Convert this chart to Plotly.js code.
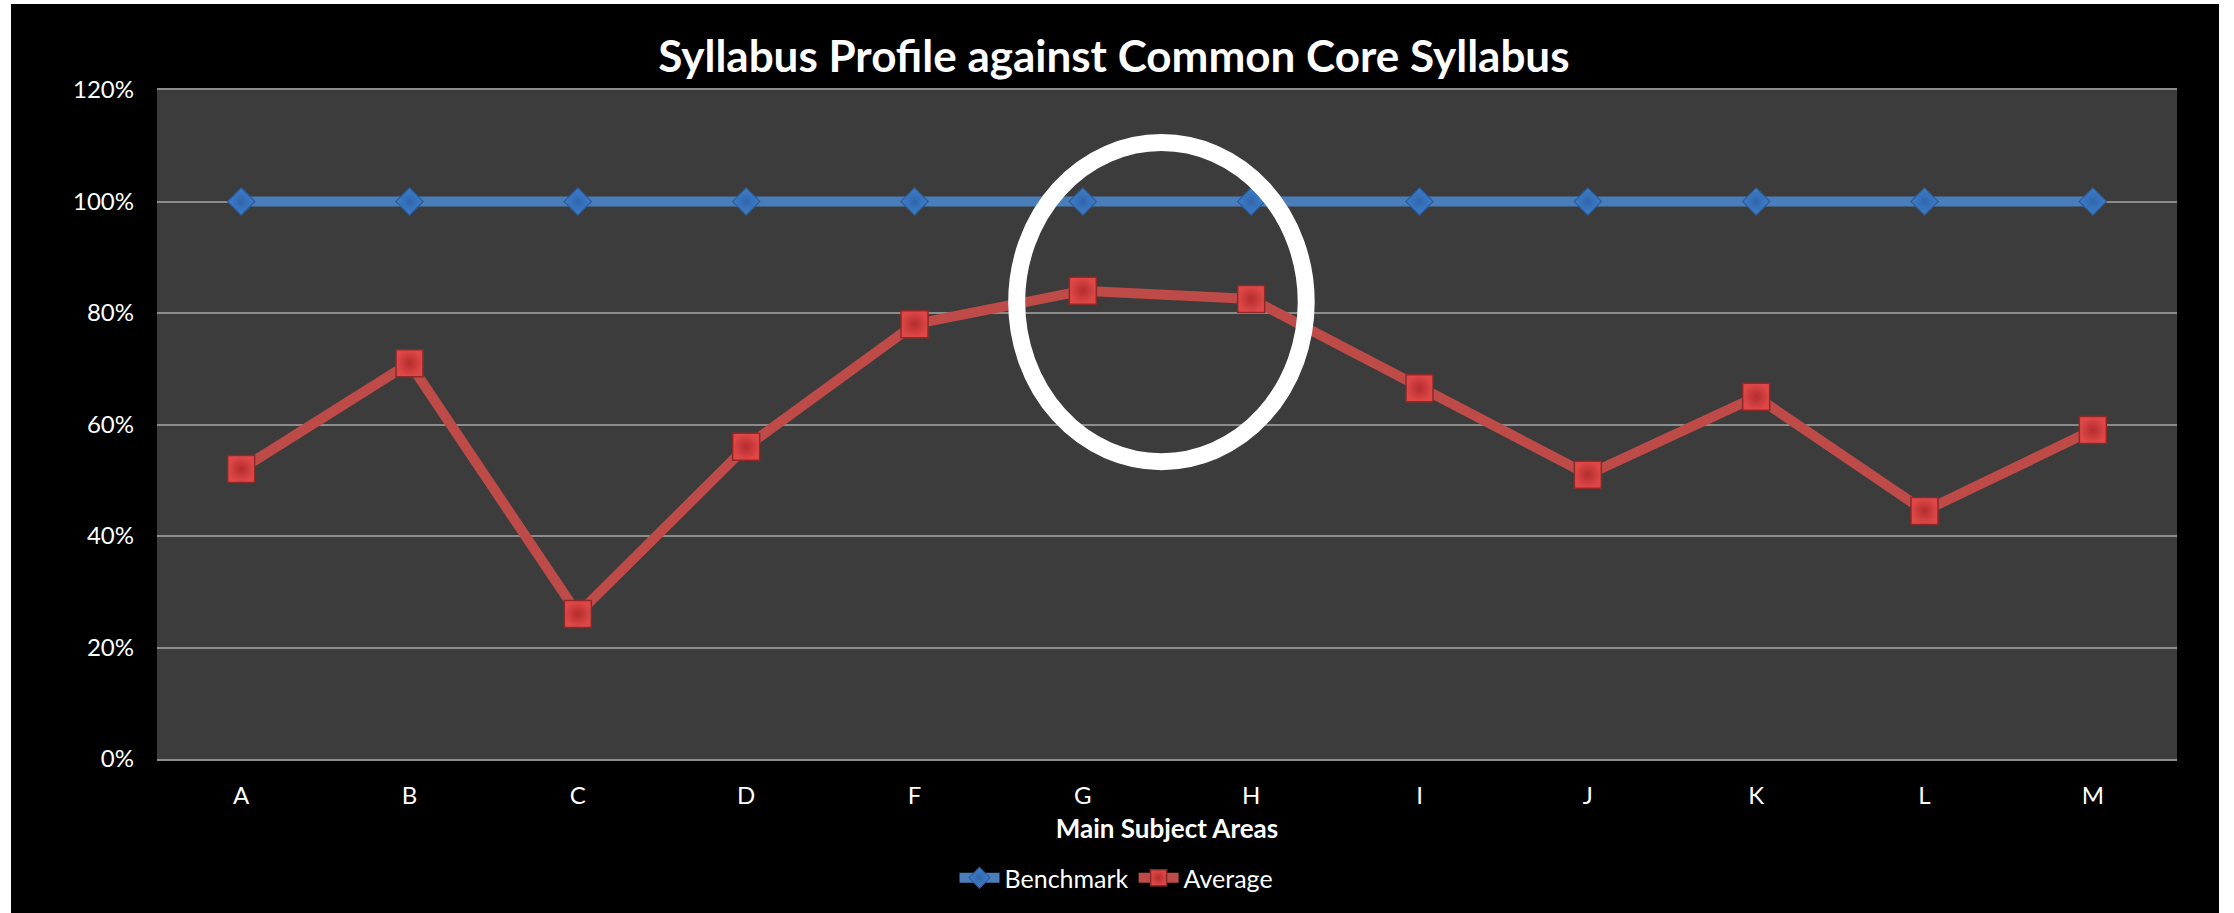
<!DOCTYPE html>
<html>
<head>
<meta charset="utf-8">
<script src="https://cdn.plot.ly/plotly-3.0.1.min.js"></script>
<style>
  html, body { margin: 0; padding: 0; background: #ffffff; width: 2234px; height: 913px; overflow: hidden; }
  #chart { position: absolute; left: 11px; top: 4px; width: 2208px; height: 909px; }
</style>
</head>
<body>
<div id="chart"></div>
<script>
// ---- data ----
const categories = ["A", "B", "C", "D", "F", "G", "H", "I", "J", "K", "L", "M"];
const benchmark = [1, 1, 1, 1, 1, 1, 1, 1, 1, 1, 1, 1];
const average = [0.52, 0.71, 0.26, 0.56, 0.78, 0.84, 0.825, 0.665, 0.51, 0.65, 0.445, 0.59];
const seriesNames = ["Benchmark", "Average"];
const chartTitle = "Syllabus Profile against Common Core Syllabus";
const xTitle = "Main Subject Areas";

const FONT = 'Lato, "Open Sans", sans-serif';

const traces = [
  {
    x: categories, y: benchmark, name: seriesNames[0], type: "scatter", mode: "lines+markers",
    line: { color: "#4a7ebb", width: 10 },
    marker: { symbol: "diamond", size: 21, color: "#3f7fcf", line: { color: "#2c5d98", width: 1.2 },
              gradient: { type: "radial", color: "#2f66aa" } }
  },
  {
    x: categories, y: average, name: seriesNames[1], type: "scatter", mode: "lines+markers",
    line: { color: "#be4b48", width: 10 },
    marker: { symbol: "square", size: 27, color: "#e04848", line: { color: "#8b2a29", width: 1.5 },
              gradient: { type: "radial", color: "#b52d2d" } }
  }
];

const layout = {
  width: 2208, height: 909,
  paper_bgcolor: "#000000",
  plot_bgcolor: "#3c3c3c",
  margin: { l: 146, r: 42, t: 86, b: 150 },
  font: { family: FONT, color: "#ffffff", size: 23 },
  title: {
    text: "<b>" + chartTitle + "</b>",
    font: { family: FONT, size: 44, color: "#ffffff" },
    xref: "container", x: 0.4995, xanchor: "center",
    yref: "container", y: 0.942, yanchor: "middle"
  },
  xaxis: {
    type: "category",
    range: [-0.5, 11.5],
    showgrid: false,
    zeroline: false,
    showline: true, mirror: true, linecolor: "#8c8c8c", linewidth: 2,
    ticks: "", ticklabelstandoff: 14,
    tickfont: { family: FONT, size: 24, color: "#ffffff" },
    title: { text: "<b>" + xTitle + "</b>", font: { family: FONT, size: 26, color: "#ffffff" }, standoff: 12 },
    automargin: false,
    fixedrange: true
  },
  yaxis: {
    range: [0, 1.2],
    dtick: 0.2, tick0: 0,
    tickformat: ".0%",
    showgrid: true, gridcolor: "#8c8c8c", gridwidth: 2,
    zeroline: false,
    showline: false,
    ticks: "", ticklabelstandoff: 22,
    tickfont: { family: FONT, size: 24, color: "#ffffff" },
    automargin: false,
    fixedrange: true
  },
  legend: {
    orientation: "h",
    x: 0.475, xanchor: "center",
    y: -0.178, yanchor: "middle",
    font: { family: FONT, size: 25, color: "#ffffff" },
    bgcolor: "rgba(0,0,0,0)",
    itemwidth: 40,
    traceorder: "normal"
  },
  shapes: [
    {
      type: "circle", xref: "x", yref: "y",
      x0: 4.607, x1: 6.327, y0: 0.5334, y1: 1.1058,
      line: { color: "#ffffff", width: 17 },
      fillcolor: "rgba(0,0,0,0)"
    }
  ],
  showlegend: true
};

Plotly.newPlot("chart", traces, layout, { displayModeBar: false, staticPlot: true });
</script>
</body>
</html>
